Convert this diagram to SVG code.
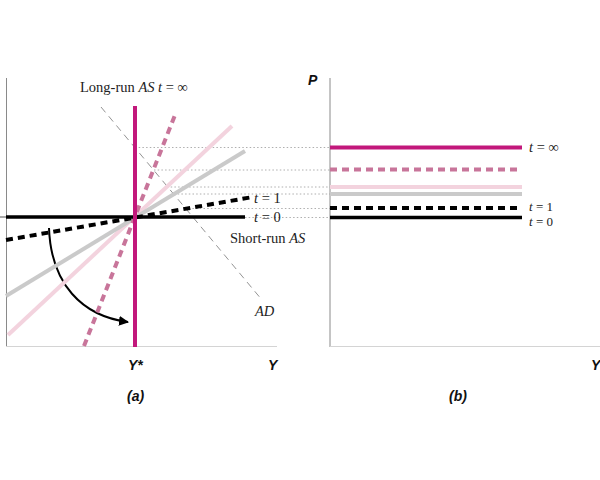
<svg xmlns="http://www.w3.org/2000/svg" width="600" height="480" viewBox="0 0 600 480">
<defs>
<style>
.axis{stroke:#8a8a8a;stroke-width:1;fill:none}
.base{stroke:#d4d4d4;stroke-width:1.2;fill:none}
.dot{stroke:#9a9a9a;stroke-width:0.8;stroke-dasharray:1.5 2.2;fill:none}
.lr{stroke:#c2187b;stroke-width:4;fill:none}
.pd{stroke:#c8759a;stroke-width:4;stroke-dasharray:7 5;fill:none}
.lp{stroke:#f3d3de;stroke-width:4;fill:none}
.gr{stroke:#cacaca;stroke-width:4;fill:none}
.bd{stroke:#000;stroke-width:4;stroke-dasharray:7 5;fill:none}
.bs{stroke:#000;stroke-width:3.5;fill:none}
.ad{stroke:#777;stroke-width:0.8;stroke-dasharray:7 5;fill:none}
.ser{font-family:"Liberation Serif","Times New Roman",serif;font-size:14.5px;fill:#222}
.sm{font-size:13px}
.it{font-style:italic}
.bl{font-family:"Liberation Sans",Arial,sans-serif;font-size:14px;font-weight:bold;font-style:italic;fill:#111}
</style>
<marker id="ah" viewBox="0 0 10 10" refX="9" refY="5" markerWidth="5" markerHeight="5" orient="auto" markerUnits="strokeWidth">
<path d="M0,0 L10,5 L0,10 z" fill="#000"/>
</marker>
</defs>
<rect width="600" height="480" fill="#fff"/>

<g id="panel-a">
<g id="axes-a">
<line class="axis" x1="6.5" y1="78" x2="6.5" y2="347"/>
<line class="base" x1="6" y1="346.5" x2="277" y2="346.5"/>
<line x1="0" y1="217" x2="6" y2="217" stroke="#555" stroke-width="1"/>
</g>
<g id="connectors">
<line class="dot" x1="135" y1="147.5" x2="330" y2="147.5"/>
<line class="dot" x1="154" y1="170" x2="330" y2="170"/>
<line class="dot" x1="167" y1="187" x2="330" y2="187"/>
<line class="dot" x1="174" y1="194" x2="330" y2="194"/>
<line class="dot" x1="185" y1="208.5" x2="330" y2="208.5"/>
<line class="dot" x1="245" y1="217.5" x2="330" y2="217.5"/>
<line class="ad" x1="101" y1="107" x2="262" y2="300"/>
<path d="M49,228 C51,284 82,316 128,322" stroke="#000" stroke-width="2" fill="none" marker-end="url(#ah)"/>
</g>
<g id="curve-light-pink"><line class="lp" x1="8" y1="335" x2="232" y2="126"/></g>
<g id="curve-gray"><line class="gr" x1="6" y1="296" x2="245" y2="151"/></g>
<g id="curve-pink-dashed"><line class="pd" x1="84" y1="346" x2="175" y2="115"/></g>
<g id="curve-short-run"><line class="bs" x1="6" y1="217" x2="245" y2="217"/></g>
<g id="curve-t1"><line class="bd" x1="6" y1="240" x2="250" y2="197.5"/></g>
<g id="curve-long-run"><line class="lr" x1="135" y1="106" x2="135" y2="347"/></g>
<g id="labels-a">
<text class="ser" x="80" y="92">Long-run <tspan class="it">AS t</tspan> = ∞</text>
<text class="ser" x="254" y="203"><tspan class="it">t</tspan> = 1</text>
<text class="ser" x="254" y="222"><tspan class="it">t</tspan> = 0</text>
<text class="ser" x="230" y="243">Short-run <tspan class="it">AS</tspan></text>
<text class="ser it" x="255" y="316">AD</text>
<text class="bl" x="128" y="370">Y*</text>
<text class="bl" x="268" y="370">Y</text>
<text class="bl" x="127" y="401">(a)</text>
</g>
</g>

<g id="panel-b">
<g id="axes-b">
<line class="axis" x1="330" y1="78" x2="330" y2="347"/>
<line class="base" x1="330" y1="346.5" x2="600" y2="346.5"/>
<text class="bl" x="308" y="85">P</text>
<text class="bl" x="591" y="370">Y</text>
<text class="bl" x="449" y="401">(b)</text>
</g>
<g id="line-inf"><line class="lr" x1="330" y1="147.5" x2="522" y2="147.5"/>
<text class="ser" x="529" y="152"><tspan class="it">t</tspan> = ∞</text></g>
<g id="line-pink-dashed"><line class="pd" x1="330" y1="169.5" x2="522" y2="169.5"/></g>
<g id="line-light-pink"><line class="lp" x1="330" y1="187" x2="522" y2="187"/></g>
<g id="line-gray"><line class="gr" x1="330" y1="194" x2="522" y2="194"/></g>
<g id="line-t1"><line class="bd" x1="330" y1="208" x2="522" y2="208"/>
<text class="ser sm" x="529" y="211"><tspan class="it">t</tspan> = 1</text></g>
<g id="line-t0"><line class="bs" x1="330" y1="217.5" x2="522" y2="217.5"/>
<text class="ser sm" x="529" y="226"><tspan class="it">t</tspan> = 0</text></g>
</g>
</svg>
